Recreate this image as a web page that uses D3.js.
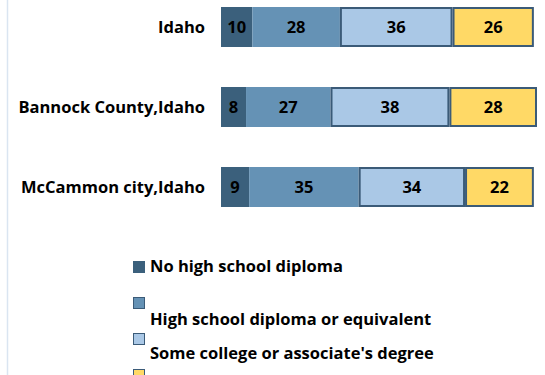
<!DOCTYPE html>
<html>
<head>
<meta charset="utf-8">
<script src="https://cdn.jsdelivr.net/npm/d3@7"></script>
<style>
  html, body { margin: 0; padding: 0; background: #fff; }
  svg { display: block; font-family: "Open Sans", Lato, sans-serif; font-weight: bold; }
</style>
</head>
<body>
<svg id="chart" width="545" height="375"></svg>
<script>
// Educational attainment, percent of adults 25+
const places = ["Idaho", "Bannock County,Idaho", "McCammon city,Idaho"];
const levels = [
  "No high school diploma",
  "High school diploma or equivalent",
  "Some college or associate's degree",
  "Bachelor's degree or higher"
];
const noDiploma   = [10, 8, 9];
const highSchool  = [28, 27, 35];
const someCollege = [36, 38, 34];
const bachelors   = [26, 28, 22];

const fills   = ["#3b607c", "#6592b5", "#aac8e6", "#ffd966"];
const outline = "#3b5b78";
const fontSize = 16.5;

const rows = places.map((p, i) => ({
  place: p,
  v: [noDiploma[i], highSchool[i], someCollege[i], bachelors[i]]
}));

const svg = d3.select("#chart");

const x = d3.scaleLinear()
  .domain([0, d3.max(rows, r => d3.sum(r.v))])
  .range([221, 537]);

const y = d3.scaleBand()
  .domain(places)
  .range([-13, 227])
  .paddingInner(0.5)
  .paddingOuter(0.25);

// faint category axis line on the left
svg.append("line")
  .attr("x1", 7.5).attr("x2", 7.5)
  .attr("y1", 0).attr("y2", 375)
  .attr("stroke", "#dae5f1").attr("stroke-width", 1.5);

// category labels
svg.append("g").selectAll("text")
  .data(places).join("text")
  .attr("x", 205)
  .attr("y", d => y(d) + y.bandwidth() / 2)
  .attr("dy", "0.36em")
  .attr("text-anchor", "end")
  .attr("font-size", fontSize)
  .attr("fill", "#000")
  .text(d => d);

// stacked segments
const segs = rows.flatMap(r => {
  let acc = 0;
  return r.v.map((val, k) => {
    const s = { place: r.place, k, val, x0: acc, x1: acc + val };
    acc += val;
    return s;
  });
});

const g = svg.append("g");
g.selectAll("rect")
  .data(segs).join("rect")
  .attr("x", d => x(d.x0) + (d.k >= 2 ? 1 : 0))
  .attr("y", d => y(d.place) + (d.k >= 2 ? 1 : 0))
  .attr("width", d => x(d.x1) - x(d.x0) - (d.k >= 2 ? 2 : 0))
  .attr("height", d => y.bandwidth() - (d.k >= 2 ? 2 : 0))
  .attr("fill", d => fills[d.k])
  .attr("stroke", d => d.k >= 2 ? outline : "none")
  .attr("stroke-width", 2);

g.selectAll("text")
  .data(segs).join("text")
  .attr("x", d => (x(d.x0) + x(d.x1)) / 2)
  .attr("y", d => y(d.place) + y.bandwidth() / 2)
  .attr("dy", "0.36em")
  .attr("text-anchor", "middle")
  .attr("font-size", fontSize)
  .attr("fill", "#000")
  .text(d => d.val);

// legend: four swatches; the labels run on wrapped lines, and only
// the first three fit inside the frame
const legendSwatchY = [261, 297, 333, 369];
const legendTextY   = [272, 325, 359];
const legend = svg.append("g");
legend.selectAll("rect")
  .data(levels).join("rect")
  .attr("x", 133.5)
  .attr("y", (d, i) => legendSwatchY[i] + 0.5)
  .attr("width", 11)
  .attr("height", 11)
  .attr("fill", (d, i) => fills[i])
  .attr("stroke", (d, i) => i === 0 ? fills[0] : outline)
  .attr("stroke-width", 1);
legend.selectAll("text")
  .data(levels.slice(0, legendTextY.length)).join("text")
  .attr("x", 150)
  .attr("y", (d, i) => legendTextY[i])
  .attr("font-size", fontSize)
  .attr("fill", "#000")
  .text(d => d);
</script>
</body>
</html>
